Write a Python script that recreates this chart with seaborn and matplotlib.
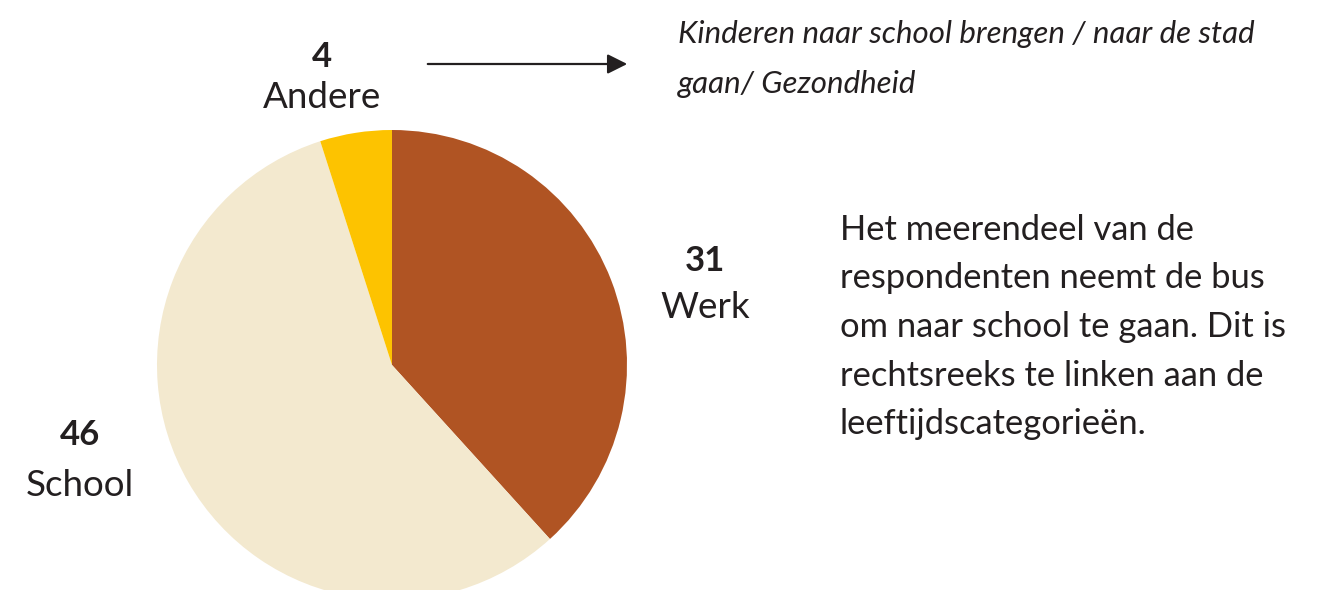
import matplotlib
matplotlib.use('Agg')
import matplotlib.pyplot as plt
import seaborn as sns

# data
categories = ['Werk', 'School', 'Andere']
counts = [31, 46, 4]
colors = ['#B05423', '#F3E9CF', '#FDC300']
note = ['Kinderen naar school brengen / naar de stad',
        'gaan/ Gezondheid']
summary = ['Het meerendeel van de',
           'respondenten neemt de bus',
           'om naar school te gaan. Dit is',
           'rechtsreeks te linken aan de',
           'leeftijdscategorieën.']

sns.set_theme(style='white')
plt.rcParams['font.family'] = ['Lato', 'DejaVu Sans']
ink = '#231F20'

W, H = 1319, 590
fig = plt.figure(figsize=(W / 100, H / 100), dpi=100)

# pie centred at (392, 365) px with radius 235 px
cx, cy, r = 392, 365, 235
ax = fig.add_axes([(cx - r) / W, (H - cy - r) / H, 2 * r / W, 2 * r / H])
ax.pie(counts, colors=colors, startangle=90, counterclock=False,
       wedgeprops={'linewidth': 0})
ax.set_xlim(-1, 1)
ax.set_ylim(-1, 1)
ax.set_aspect('equal')
ax.axis('off')

def px(x, y):
    return x / W, 1 - y / H

label_pos = {'Andere': (322, 57, 97), 'Werk': (705, 261, 308), 'School': (80, 435, 485)}
for cat, n in zip(categories, counts):
    x, yn, yl = label_pos[cat]
    fig.text(*px(x, yn), str(n), ha='center', va='center', fontsize=25,
             fontweight='bold', color=ink)
    fig.text(*px(x, yl), cat, ha='center', va='center', fontsize=26.5, color=ink)

# arrow towards the note
fig.add_artist(matplotlib.patches.FancyArrowPatch(
    px(425, 64), px(630, 64), transform=fig.transFigure,
    arrowstyle='-|>,head_length=0.6,head_width=0.3', mutation_scale=20,
    color=ink, linewidth=1.6))

for i, line in enumerate(note):
    fig.text(*px(678, 34 + i * 50), line, ha='left', va='center', fontsize=22.5,
             fontstyle='italic', color=ink)

for i, line in enumerate(summary):
    fig.text(*px(840, 230 + i * 48.5), line, ha='left', va='center',
             fontsize=24.8, color=ink)

plt.savefig('out.png', dpi=100)
plt.close()
